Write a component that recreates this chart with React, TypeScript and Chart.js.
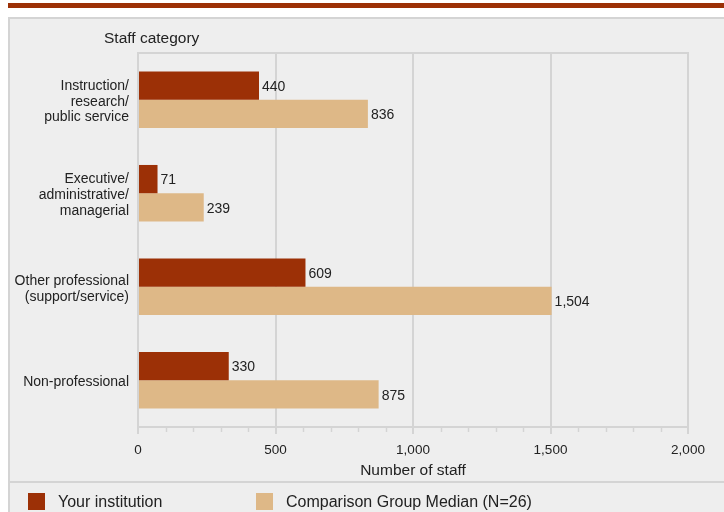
import React, { useEffect, useRef } from "react";
import { Chart, registerables } from "chart.js";

Chart.register(...registerables);

const categories: string[][] = [
  ["Instruction/", "research/", "public service"],
  ["Executive/", "administrative/", "managerial"],
  ["Other professional", "(support/service)"],
  ["Non-professional"],
];
const seriesNames = ["Your institution", "Comparison Group Median (N=26)"];
const yourInstitution = [440, 71, 609, 330];
const comparisonMedian = [836, 239, 1504, 875];
const xTicks = [0, 500, 1000, 1500, 2000];
const minorStep = 100;

const DARK = "#9c3006";
const TAN = "#deb887";
const GRID = "#d4d4d4";
const TEXT = "#222222";
const FONT = "'Liberation Sans', Arial, Helvetica, sans-serif";

const fmt = (v: number) => v.toLocaleString("en-US");

const decorPlugin = {
  id: "decor",
  beforeDatasetsDraw(chart: any) {
    const { ctx, chartArea } = chart;
    const xs = chart.scales.x;
    ctx.save();
    ctx.strokeStyle = GRID;
    ctx.lineWidth = 2;
    // top frame line
    ctx.beginPath();
    ctx.moveTo(chartArea.left - 1, chartArea.top);
    ctx.lineTo(chartArea.right + 1, chartArea.top);
    ctx.stroke();
    // minor ticks
    ctx.lineWidth = 1.5;
    for (let v = xTicks[0]; v <= xTicks[xTicks.length - 1]; v += minorStep) {
      if (xTicks.includes(v)) continue;
      const px = Math.round(xs.getPixelForValue(v)) + 0.5;
      ctx.beginPath();
      ctx.moveTo(px, chartArea.bottom);
      ctx.lineTo(px, chartArea.bottom + 5);
      ctx.stroke();
    }
    ctx.restore();
  },
  afterDatasetsDraw(chart: any) {
    const { ctx, chartArea } = chart;
    ctx.save();
    ctx.font = `14px ${FONT}`;
    ctx.fillStyle = TEXT;
    ctx.textBaseline = "middle";
    ctx.textAlign = "left";
    chart.data.datasets.forEach((ds: any, di: number) => {
      const meta = chart.getDatasetMeta(di);
      meta.data.forEach((bar: any, i: number) => {
        ctx.fillText(fmt(ds.data[i]), bar.x + 3, bar.y + 1.5);
      });
    });
    // axis category title
    ctx.font = `15.5px ${FONT}`;
    ctx.fillText("Staff category", chartArea.left - 34, chartArea.top - 14);
    // legend
    const legendX = [28, 256];
    ctx.font = `16px ${FONT}`;
    chart.data.datasets.forEach((ds: any, di: number) => {
      const x = legendX[di];
      ctx.fillStyle = ds.backgroundColor;
      ctx.fillRect(x, 493, 17, 17);
      ctx.fillStyle = TEXT;
      ctx.fillText(ds.label, x + 30, 503);
    });
    ctx.restore();
  },
};

export default function App() {
  const canvasRef = useRef<HTMLCanvasElement | null>(null);

  useEffect(() => {
    if (!canvasRef.current) return;
    const chart = new Chart(canvasRef.current, {
      type: "bar",
      data: {
        labels: categories,
        datasets: [
          {
            label: seriesNames[0],
            data: yourInstitution,
            backgroundColor: DARK,
            categoryPercentage: 0.605,
            barPercentage: 1,
          },
          {
            label: seriesNames[1],
            data: comparisonMedian,
            backgroundColor: TAN,
            categoryPercentage: 0.605,
            barPercentage: 1,
          },
        ],
      },
      options: {
        indexAxis: "y",
        animation: false,
        responsive: true,
        maintainAspectRatio: false,
        layout: { padding: { top: 53, right: 36, bottom: 30, left: 0 } },
        plugins: {
          legend: { display: false },
          tooltip: { enabled: false },
          title: { display: false },
        },
        scales: {
          x: {
            type: "linear",
            min: xTicks[0],
            max: xTicks[xTicks.length - 1],
            afterBuildTicks: (scale: any) => {
              scale.ticks = xTicks.map((v) => ({ value: v }));
            },
            afterFit: (scale: any) => {
              scale.height = 55;
            },
            ticks: {
              color: TEXT,
              font: { family: FONT, size: 13.5 },
              padding: 8.5,
              maxRotation: 0,
              callback: (v: any) => fmt(Number(v)),
            },
            grid: {
              color: GRID,
              lineWidth: 2,
              tickLength: 7,
              drawTicks: true,
            },
            border: { display: true, color: GRID, width: 2 },
            title: {
              display: true,
              text: "Number of staff",
              color: TEXT,
              font: { family: FONT, size: 15.5 },
              padding: { top: 0, bottom: 1.5 },
            },
          },
          y: {
            type: "category",
            afterFit: (scale: any) => {
              scale.width = 138;
            },
            ticks: {
              color: TEXT,
              font: { family: FONT, size: 14, lineHeight: 1.13 },
              padding: 9,
              labelOffset: 2,
            },
            grid: { display: false, drawTicks: false },
            border: { display: true, color: GRID, width: 2 },
          },
        },
      },
      plugins: [decorPlugin],
    } as any);
    return () => chart.destroy();
  }, []);

  return (
    <div
      style={{
        position: "absolute",
        left: 0,
        top: 0,
        width: 724,
        height: 512,
        overflow: "hidden",
        background: "#ffffff",
      }}
    >
      <div
        style={{
          position: "absolute",
          left: 8,
          top: 3,
          right: 0,
          height: 5,
          background: DARK,
        }}
      />
      <div
        style={{
          position: "absolute",
          left: 8,
          top: 17,
          right: 0,
          bottom: 0,
          background: "#eeeeee",
          borderTop: `2px solid ${GRID}`,
          borderLeft: `2px solid ${GRID}`,
          boxSizing: "border-box",
        }}
      />
      <div
        style={{
          position: "absolute",
          left: 8,
          top: 481,
          right: 0,
          height: 2,
          background: GRID,
        }}
      />
      <div style={{ position: "absolute", left: 0, top: 0, width: 724, height: 512 }}>
        <canvas ref={canvasRef} />
      </div>
    </div>
  );
}
